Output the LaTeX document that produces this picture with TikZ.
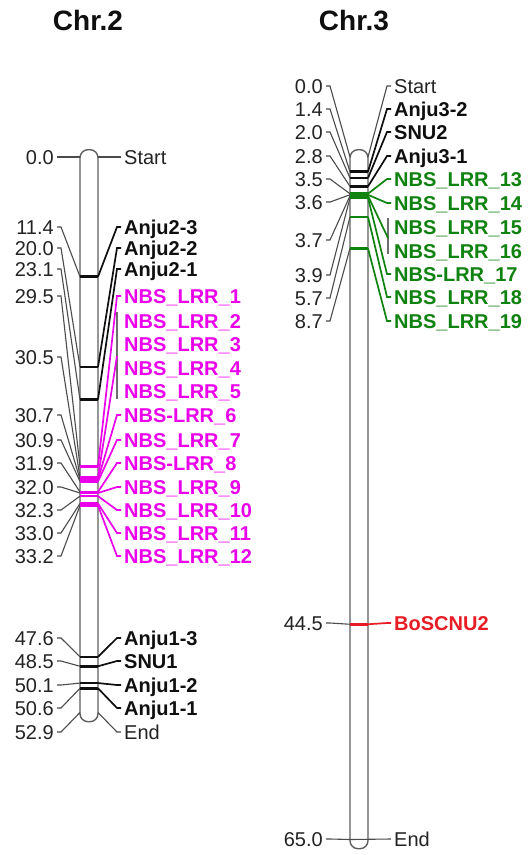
\documentclass[tikz,border=0pt]{standalone}
\usepackage{fontspec}
\setmainfont{Liberation Sans}
\definecolor{numc}{RGB}{35,35,35}
\definecolor{lconnc}{RGB}{75,75,75}
\definecolor{chrc}{RGB}{95,95,95}
\definecolor{blk}{RGB}{15,15,15}
\definecolor{mag}{RGB}{235,0,235}
\definecolor{grn}{RGB}{15,130,15}
\definecolor{rd}{RGB}{232,28,36}
\definecolor{brk}{RGB}{110,110,110}
\begin{document}
\begin{tikzpicture}[x=1pt,y=-1pt,
  txt/.style={inner sep=0pt, text height=14.3pt, text depth=0pt, font=\fontsize{20}{20}\selectfont},
  num/.style={txt, anchor=east, text=numc},
  lab/.style={txt, anchor=west, font=\fontsize{20}{20}\selectfont\bfseries},
  endlab/.style={txt, anchor=west, text=numc},
  title/.style={inner sep=0pt, text height=20pt, text depth=0pt, font=\fontsize{28}{28}\selectfont\bfseries, text=blk},
  chrom/.style={draw=chrc, line width=1.4pt, fill=white, rounded corners=8pt},
  lconn/.style={draw=lconnc, line width=1.1pt},
  rconn/.style={line width=1.7pt},
  tickm/.style={line width=2.6pt},
  brack/.style={draw=brk, line width=1.1pt}
]
\useasboundingbox[fill=white] (0,0) rectangle (528,855);

% titles
\node[title] (t2) at (88,20) {Chr.2};
\node[title] (t3) at (354,20) {Chr.3};

% chromosomes
\node[chrom, minimum width=18pt, minimum height=572pt, inner sep=0pt, anchor=north] (chr2) at (89,149) {};
\node[chrom, minimum width=18pt, minimum height=699pt, inner sep=0pt, anchor=north] (chr3) at (359,149) {};

% ---------- Chr.2 left ----------
\foreach \v/\ly [count=\i] in {0.0/157, 11.4/227, 20.0/248, 23.1/269, 29.5/296, 30.5/357, 30.7/415, 30.9/440, 31.9/463, 32.0/487, 32.3/510, 33.0/533, 33.2/556, 47.6/638, 48.5/661, 50.1/685, 50.6/708, 52.9/732}
{
  \pgfmathsetmacro\my{157+10.5*\v}
  \node[num] (l2\i) at (54,\ly) {\v};
  \coordinate (l2m\i) at (80,\my);
  \draw[lconn] ([xshift=3pt]l2\i.east) -- ([xshift=7pt]l2\i.east) -- (l2m\i);
}

% ---------- Chr.2 right ----------
\node[endlab] (s2) at (124,157) {Start};
\coordinate (s2m) at (98,157);
\draw[lconn] (s2m) -- ([xshift=-3pt]s2.west);
\node[endlab] (e2) at (124,732) {End};
\coordinate (e2m) at (98,712.5);
\draw[lconn] (e2m) -- ([xshift=-7pt]e2.west) -- ([xshift=-3pt]e2.west);

\foreach \t/\v/\ly/\c [count=\i] in {Anju2-3/11.4/227/blk, Anju2-2/20.0/248/blk, Anju2-1/23.1/269/blk, NBS\_LRR\_1/29.5/296/mag, NBS-LRR\_6/30.7/415/mag, NBS\_LRR\_7/30.9/440/mag, NBS-LRR\_8/31.9/463/mag, NBS\_LRR\_9/32.0/487/mag, NBS\_LRR\_10/32.3/510/mag, NBS\_LRR\_11/33.0/533/mag, NBS\_LRR\_12/33.2/556/mag, Anju1-3/47.6/638/blk, SNU1/48.5/661/blk, Anju1-2/50.1/685/blk, Anju1-1/50.6/708/blk}
{
  \pgfmathsetmacro\my{157+10.5*\v}
  \node[lab, text=\c] (r2\i) at (124,\ly) {\t};
  \coordinate (r2m\i) at (98,\my);
  \coordinate (r2n\i) at (80,\my);
  \draw[tickm, \c] (r2n\i) -- (r2m\i);
  \draw[rconn, \c] (r2m\i) -- ([xshift=-7pt]r2\i.west) -- ([xshift=-3pt]r2\i.west);
}
% group at 30.5
\foreach \t/\ly [count=\i] in {NBS\_LRR\_2/321, NBS\_LRR\_3/344, NBS\_LRR\_4/368, NBS\_LRR\_5/391}
{
  \node[lab, text=mag] (g2\i) at (124,\ly) {\t};
}
\coordinate (b2t) at (117,312);
\coordinate (b2b) at (117,399);
\coordinate (b2c) at (117,356);
\coordinate (g2m) at (98,477.25);
\coordinate (g2n) at (80,477.25);
\draw[brack] (b2t) -- (b2b);
\draw[tickm, mag] (g2n) -- (g2m);
\draw[rconn, mag] (g2m) -- (b2c);

% ---------- Chr.3 left ----------
\foreach \v/\ly [count=\i] in {0.0/86, 1.4/109, 2.0/132, 2.8/156, 3.5/179, 3.6/202, 3.7/240, 3.9/275, 5.7/298, 8.7/321, 44.5/623, 65.0/839}
{
  \pgfmathsetmacro\my{157+10.5*\v}
  \node[num] (l3\i) at (323,\ly) {\v};
  \coordinate (l3m\i) at (350,\my);
  \draw[lconn] ([xshift=3pt]l3\i.east) -- ([xshift=7pt]l3\i.east) -- (l3m\i);
}

% ---------- Chr.3 right ----------
\node[endlab] (s3) at (394,86) {Start};
\coordinate (s3m) at (368,157);
\draw[lconn] (s3m) -- ([xshift=-7pt]s3.west) -- ([xshift=-3pt]s3.west);
\node[endlab] (e3) at (394,839) {End};
\coordinate (e3n) at (350,839.5);
\draw[lconn] (e3n) -- ([xshift=-3pt]e3.west);

\foreach \t/\v/\ly/\c [count=\i] in {Anju3-2/1.4/109/blk, SNU2/2.0/132/blk, Anju3-1/2.8/156/blk, NBS\_LRR\_13/3.5/179/grn, NBS\_LRR\_14/3.6/203/grn, NBS-LRR\_17/3.9/274/grn, NBS\_LRR\_18/5.7/297/grn, NBS\_LRR\_19/8.7/321/grn, BoSCNU2/44.5/623/rd}
{
  \pgfmathsetmacro\my{157+10.5*\v}
  \node[lab, text=\c] (r3\i) at (394,\ly) {\t};
  \coordinate (r3m\i) at (368,\my);
  \coordinate (r3n\i) at (350,\my);
  \draw[tickm, \c] (r3n\i) -- (r3m\i);
  \draw[rconn, \c] (r3m\i) -- ([xshift=-7pt]r3\i.west) -- ([xshift=-3pt]r3\i.west);
}
% group at 3.7
\foreach \t/\ly [count=\i] in {NBS\_LRR\_15/227, NBS\_LRR\_16/251}
{
  \node[lab, text=grn] (g3\i) at (394,\ly) {\t};
}
\coordinate (b3t) at (388,218);
\coordinate (b3b) at (388,254);
\coordinate (b3c) at (388,238);
\coordinate (g3m) at (368,195.85);
\coordinate (g3n) at (350,195.85);
\draw[brack] (b3t) -- (b3b);
\draw[tickm, grn] (g3n) -- (g3m);
\draw[rconn, grn] (g3m) -- (b3c);
\end{tikzpicture}
\end{document}
